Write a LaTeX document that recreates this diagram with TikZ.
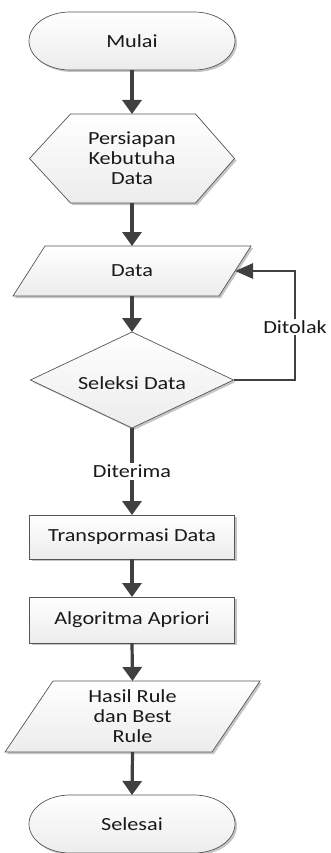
\documentclass[tikz,border=0pt]{standalone}
\usepackage{fontspec}
\setmainfont[FakeStretch=1.2]{Carlito}
\usetikzlibrary{calc,arrows.meta,shadows}
\definecolor{linec}{HTML}{404040}
\definecolor{edgec}{HTML}{555555}
\definecolor{fillb}{HTML}{ECECEC}
\tikzset{
  box/.style={draw=none, inner sep=0pt, outer sep=0pt, align=center, text=black!90,
    font=\fontsize{18.5pt}{20pt}\selectfont},
  shp/.style={draw=edgec, line width=0.7pt, top color=white, bottom color=fillb,
    drop shadow={shadow xshift=2pt, shadow yshift=-2pt, fill=black!45, opacity=0.5}},
  flow/.style={draw=linec, line width=3.2pt, -{Triangle[width=19pt,length=14pt]}},
  fb/.style={draw=linec, line width=2.6pt, -{Triangle[width=15pt,length=18pt]}},
  lab/.style={fill=white, inner sep=2pt, text=black!90, font=\fontsize{18.5pt}{20pt}\selectfont}
}
\begin{document}
\begin{tikzpicture}[x=1pt,y=-1pt]
\useasboundingbox (0,0) rectangle (330,853);
% node boxes
\node[box, minimum width=206pt, minimum height=58pt] (mulai) at (132,41) {};
\node[box, minimum width=205pt, minimum height=89pt] (persiapan) at (132,158.5) {};
\node[box, minimum width=238pt, minimum height=50pt] (data) at (132,271) {};
\node[box, minimum width=203pt, minimum height=96pt] (seleksi) at (132,380) {};
\node[box, minimum width=205pt, minimum height=44pt] (transp) at (132,537) {};
\node[box, minimum width=205pt, minimum height=46pt] (algo) at (132,620) {};
\node[box, minimum width=255pt, minimum height=71pt] (hasil) at (132.5,716.5) {};
\node[box, minimum width=206pt, minimum height=58pt] (selesai) at (132,824) {};
% shapes
\path[shp] ($(mulai.north west)+(41,0)$) -- ($(mulai.north east)+(-41,0)$)
  arc[start angle=90, end angle=-90, x radius=41pt, y radius=29pt]
  -- ($(mulai.south west)+(41,0)$)
  arc[start angle=270, end angle=90, x radius=41pt, y radius=29pt] -- cycle;
\path[shp] (persiapan.west) -- ($(persiapan.north west)+(41,0)$) -- ($(persiapan.north east)+(-39,0)$)
  -- (persiapan.east) -- ($(persiapan.south east)+(-39,0)$) -- ($(persiapan.south west)+(41,0)$) -- cycle;
\path[shp] ($(data.north west)+(32,0)$) -- (data.north east) -- ($(data.south east)+(-32,0)$)
  -- (data.south west) -- cycle;
\path[shp] (seleksi.west) -- (seleksi.north) -- (seleksi.east) -- (seleksi.south) -- cycle;
\path[shp] (transp.north west) rectangle (transp.south east);
\path[shp] (algo.north west) rectangle (algo.south east);
\path[shp] ($(hasil.north west)+(48,0)$) -- (hasil.north east) -- ($(hasil.south east)+(-48,0)$)
  -- (hasil.south west) -- cycle;
\path[shp] ($(selesai.north west)+(41,0)$) -- ($(selesai.north east)+(-41,0)$)
  arc[start angle=90, end angle=-90, x radius=41pt, y radius=29pt]
  -- ($(selesai.south west)+(41,0)$)
  arc[start angle=270, end angle=90, x radius=41pt, y radius=29pt] -- cycle;
% texts
\node[box] at (mulai) {Mulai};
\node[box] at (persiapan) {Persiapan\\Kebutuha\\Data};
\node[box] at (data) {Data};
\node[box] at ($(seleksi)+(0,3)$) {Seleksi Data};
\node[box] at (transp) {Transpormasi Data};
\node[box] at (algo) {Algoritma Apriori};
\node[box] at (hasil) {Hasil Rule\\dan Best\\Rule};
\node[box] at (selesai) {Selesai};
% connectors
\coordinate (dataR) at ($(data.east)+(-16,0)$);
\coordinate (loop) at (295,271);
\draw[flow] (mulai.south) -- (persiapan.north);
\draw[flow] (persiapan.south) -- (data.north);
\draw[flow] (data.south) -- (seleksi.north);
\draw[fb] (seleksi.east) -| (loop) -- (dataR);
\node[lab] at (295,327) {Ditolak};
\draw[flow] (seleksi.south) -- node[lab] {Diterima} (transp.north);
\draw[flow] (transp.south) -- (algo.north);
\draw[flow] (algo.south) -- (hasil.north);
\draw[flow] (hasil.south) -- (selesai.north);
\end{tikzpicture}
\end{document}
